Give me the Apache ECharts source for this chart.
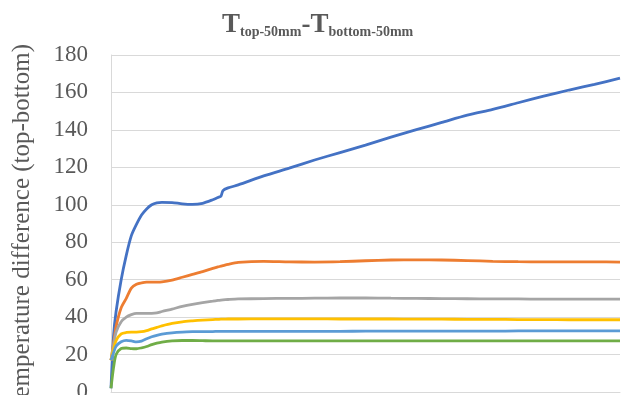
<!DOCTYPE html>
<html>
<head>
<meta charset="utf-8">
<script src="https://cdn.jsdelivr.net/npm/echarts@6/dist/echarts.min.js"></script>
<style>
  html, body { margin: 0; padding: 0; background: #ffffff; }
  #chart { width: 623px; height: 395px; }
</style>
</head>
<body>
<div id="chart"></div>
<script>
// Sample positions along the time axis (shared by every curve)
const timeSteps = [0, 0.5, 1, 2, 3, 4, 5, 6, 7, 8, 9, 10, 12, 14, 16, 18, 20, 21, 21.6, 22, 23, 25,
  30, 35, 40, 45, 50, 55, 60, 65, 70, 75, 80, 85, 90, 95, 100];

// Top-minus-bottom temperature difference for each case
const curveBlue = [2, 30, 43, 60, 73, 83.5, 89.5, 94.5, 97.8, 100, 101, 101.3, 101.2, 100.5, 100.2, 100.8,
  102.7, 103.9, 104.6, 107.6, 109, 110.6, 115.4, 119.6, 123.9, 127.9, 131.9, 136.1, 140.1, 144, 147.9,
  151, 154.5, 158, 161.3, 164.3, 167.6];
const curveOrange = [17, 26, 35, 45, 50, 55.5, 57.5, 58.3, 58.7, 58.7, 58.7, 58.8, 59.8, 61.3, 62.8, 64.3,
  66, 66.8, 67.2, 67.5, 68.2, 69.2, 69.8, 69.5, 69.4, 69.6, 70.1, 70.5, 70.6, 70.5, 70.2, 69.8, 69.6,
  69.5, 69.5, 69.5, 69.4];
const curveGray = [17, 25, 32, 37.5, 40, 41.3, 42, 42, 42, 42, 42.2, 43, 44.3, 45.7, 46.8, 47.7, 48.5, 48.9,
  49.1, 49.2, 49.4, 49.7, 49.9, 50, 50.1, 50.2, 50.2, 50.1, 50, 49.9, 49.8, 49.7, 49.7, 49.6, 49.6,
  49.6, 49.6];
const curveYellow = [17, 23, 27.5, 31, 31.8, 32, 32, 32.2, 32.8, 33.7, 34.5, 35.3, 36.6, 37.5, 38, 38.4, 38.7,
  38.8, 38.9, 38.9, 39, 39, 39.1, 39.1, 39.1, 39, 39, 39, 38.9, 38.9, 38.8, 38.8, 38.7, 38.7, 38.6,
  38.6, 38.6];
const curveLightBlue = [17, 21, 24.5, 26.8, 27.6, 27.3, 26.8, 27.2, 28.4, 29.5, 30.3, 30.9, 31.6, 32, 32.2,
  32.3, 32.3, 32.4, 32.4, 32.4, 32.4, 32.4, 32.4, 32.4, 32.4, 32.4, 32.5, 32.5, 32.5, 32.5, 32.5, 32.5,
  32.6, 32.6, 32.6, 32.6, 32.6];
const curveGreen = [2, 13, 20, 23.2, 23.5, 23.2, 23.1, 23.6, 24.3, 25.3, 26.1, 26.7, 27.3, 27.5, 27.5, 27.4,
  27.3, 27.3, 27.3, 27.3, 27.3, 27.3, 27.3, 27.3, 27.3, 27.3, 27.3, 27.3, 27.3, 27.3, 27.3, 27.3, 27.3,
  27.3, 27.3, 27.3, 27.3];

const yTicks = { min: 0, max: 180, step: 20 };

const curves = [
  { name: 'case-1', values: curveBlue, color: '#4472C4' },
  { name: 'case-2', values: curveOrange, color: '#ED7D31' },
  { name: 'case-3', values: curveGray, color: '#A5A5A5' },
  { name: 'case-4', values: curveYellow, color: '#FFC000' },
  { name: 'case-5', values: curveLightBlue, color: '#5B9BD5' },
  { name: 'case-6', values: curveGreen, color: '#70AD47' }
];

const serif = '"Liberation Serif", "Times New Roman", serif';
const textGray = '#595959';

const chart = echarts.init(document.getElementById('chart'), null, { renderer: 'canvas' });

chart.setOption({
  animation: false,
  backgroundColor: '#ffffff',
  title: {
    text: '{T|T}{s|top-50mm}{T|-T}{s|bottom-50mm}',
    left: 217,
    top: 7,
    textStyle: {
      rich: {
        T: { fontFamily: serif, fontSize: 27, fontWeight: 'bold', color: textGray, verticalAlign: 'bottom' },
        s: { fontFamily: serif, fontSize: 14, fontWeight: 'bold', color: textGray, verticalAlign: 'bottom' }
      }
    }
  },
  grid: { left: 111, right: 3, top: 55, bottom: 3, containLabel: false, outerBoundsMode: 'none' },
  xAxis: {
    type: 'value',
    min: 0,
    max: 100,
    axisLine: { show: true, lineStyle: { color: '#d9d9d9', width: 1 } },
    axisTick: { show: false },
    axisLabel: { show: false },
    splitLine: { show: false }
  },
  yAxis: {
    type: 'value',
    min: yTicks.min,
    max: yTicks.max,
    interval: yTicks.step,
    name: 'Temperature difference (top-bottom)',
    nameLocation: 'middle',
    nameGap: 76,
    nameTextStyle: { fontFamily: serif, fontSize: 25, color: textGray, padding: [0, 8, 0, 0] },
    axisLine: { show: true, lineStyle: { color: '#d9d9d9', width: 1 } },
    axisTick: { show: false },
    axisLabel: { fontFamily: serif, fontSize: 23, color: textGray, margin: 23 },
    splitLine: { show: true, lineStyle: { color: '#d9d9d9', width: 1 } }
  },
  series: curves.map(c => ({
    name: c.name,
    type: 'line',
    data: timeSteps.map((t, i) => [t, c.values[i]]),
    showSymbol: false,
    smooth: 0.25,
    lineStyle: { color: c.color, width: 2.8 },
    itemStyle: { color: c.color },
    z: 2
  }))
});
</script>
</body>
</html>
